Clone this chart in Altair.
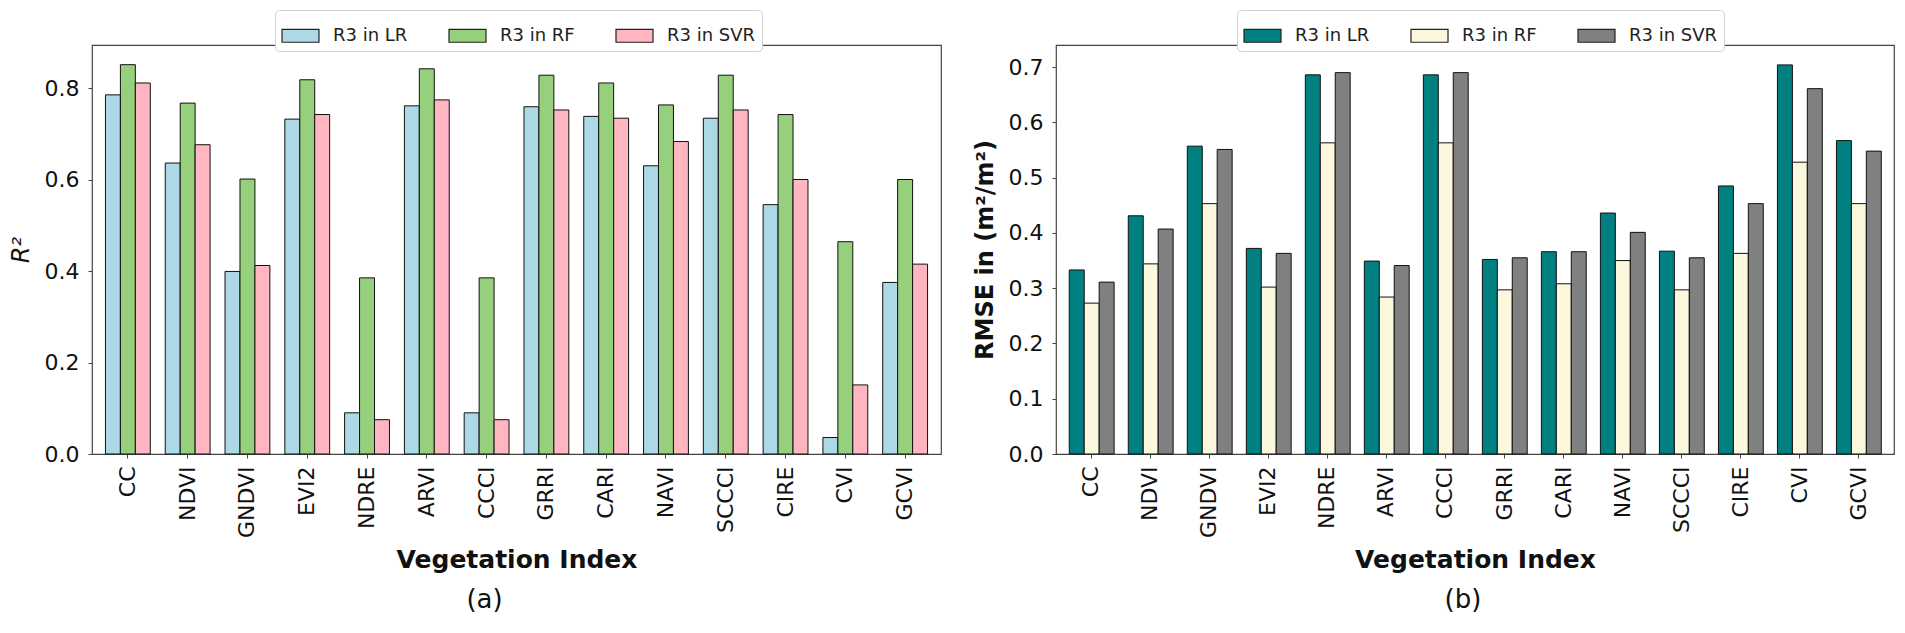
import altair as alt
import pandas as pd

# ---- data ----
indices = ["CC", "NDVI", "GNDVI", "EVI2", "NDRE", "ARVI", "CCCI", "GRRI",
           "CARI", "NAVI", "SCCCI", "CIRE", "CVI", "GCVI"]
models = ["R3 in LR", "R3 in RF", "R3 in SVR"]

r2_lr = [0.785, 0.636, 0.399, 0.732, 0.090, 0.761, 0.090, 0.759, 0.738, 0.630, 0.734, 0.545, 0.036, 0.375]
r2_rf = [0.851, 0.767, 0.601, 0.818, 0.385, 0.842, 0.385, 0.828, 0.811, 0.763, 0.828, 0.742, 0.464, 0.600]
r2_svr = [0.811, 0.676, 0.412, 0.742, 0.075, 0.774, 0.075, 0.752, 0.734, 0.683, 0.752, 0.600, 0.151, 0.415]

rmse_lr = [0.333, 0.431, 0.557, 0.372, 0.686, 0.349, 0.686, 0.352, 0.366, 0.436, 0.367, 0.485, 0.704, 0.567]
rmse_rf = [0.273, 0.344, 0.453, 0.302, 0.563, 0.284, 0.563, 0.297, 0.308, 0.350, 0.297, 0.363, 0.528, 0.453]
rmse_svr = [0.311, 0.407, 0.551, 0.363, 0.690, 0.341, 0.690, 0.355, 0.366, 0.401, 0.355, 0.453, 0.661, 0.548]

r2_ticks = [0.0, 0.2, 0.4, 0.6, 0.8]
rmse_ticks = [0.0, 0.1, 0.2, 0.3, 0.4, 0.5, 0.6, 0.7]

colors_a = ["#add8e6", "#97d07c", "#ffb6c1"]
colors_b = ["#008080", "#fbf8de", "#808080"]


def long_table(series):
    rows = []
    for m, vals in zip(models, series):
        for idx, v in zip(indices, vals):
            rows.append({"index": idx, "model": m, "value": v})
    return pd.DataFrame(rows)


df_a = long_table([r2_lr, r2_rf, r2_svr])
df_b = long_table([rmse_lr, rmse_rf, rmse_svr])

FONT = "DejaVu Sans"
SYMBOL = "M-1,-0.35L1,-0.35L1,0.35L-1,0.35Z"


def legend(lx, ly):
    return alt.Legend(
        title=None, orient="none", legendX=lx, legendY=ly,
        direction="horizontal", columns=3, columnPadding=38,
        symbolType=SYMBOL, symbolSize=1369, symbolStrokeColor="#222",
        symbolStrokeWidth=1.2, symbolOpacity=1,
        labelFont=FONT, labelFontSize=18, labelColor="#222", labelOffset=13,
        fillColor="white", strokeColor="#d0d0d0", cornerRadius=4, padding=6,
    )


def panel(df, colors, ytitle, yticks, ymax, ytitle_style, width, lx, ly, label, dx):
    return alt.Chart(df).mark_bar(stroke="#111", strokeWidth=1).encode(
        x=alt.X("index:N", sort=indices,
                scale=alt.Scale(paddingInner=0.25, paddingOuter=0.225),
                axis=alt.Axis(title="Vegetation Index", labelAngle=-90,
                              labelFontSize=22, labelPadding=8,
                              titleFontSize=25, titleFontWeight="bold",
                              titlePadding=10)),
        xOffset=alt.XOffset("model:N", sort=models,
                            scale=alt.Scale(paddingInner=0, paddingOuter=0)),
        y=alt.Y("value:Q",
                scale=alt.Scale(domain=[0, ymax], nice=False, zero=True),
                axis=alt.Axis(title=ytitle, values=yticks, format=".1f",
                              labelFontSize=22, labelPadding=9,
                              titleFontSize=24, titlePadding=11,
                              **ytitle_style)),
        color=alt.Color("model:N", sort=models,
                        scale=alt.Scale(domain=models, range=colors),
                        legend=legend(lx, ly)),
    ).properties(
        width=width, height=409,
        title=alt.TitleParams(label, orient="bottom", fontSize=26,
                              font=FONT, fontWeight="normal", color="#111",
                              offset=14, dx=dx),
    )


chart_a = panel(df_a, colors_a, "R²", r2_ticks, 0.894,
                {"titleFontStyle": "italic", "titleFontWeight": "normal"},
                849, 183, -35, "(a)", -32)
chart_b = panel(df_b, colors_b, "RMSE in (m²/m²)", rmse_ticks, 0.74,
                {"titleFontWeight": "bold"},
                838, 181, -35, "(b)", -12)

chart = alt.hconcat(chart_a, chart_b, spacing=30).resolve_scale(
    color="independent", x="independent", y="independent"
).resolve_legend(color="independent").properties(
    padding=0
).configure_view(
    stroke="#444", strokeWidth=1.2
).configure_axis(
    domain=False, grid=False, ticks=True, tickSize=4, tickColor="#444",
    labelFont=FONT, titleFont=FONT, labelColor="#111", titleColor="#111",
)

chart.save("out.html", embed_options={"renderer": "svg", "actions": False})
